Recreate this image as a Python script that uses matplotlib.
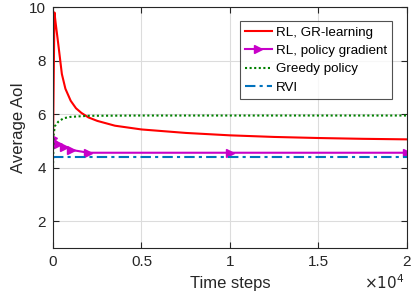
import matplotlib
matplotlib.use("Agg")
from matplotlib import pyplot as plt
from matplotlib.ticker import FuncFormatter

# data
gr_x = [0, 80, 150, 300, 500, 700, 1000, 1300, 1600, 2000, 2500, 3500, 5000, 7500, 10000, 12500, 15000, 17500, 20000]
gr_y = [5.0, 9.8, 9.4, 8.6, 7.5, 6.95, 6.5, 6.22, 6.05, 5.88, 5.75, 5.57, 5.43, 5.3, 5.21, 5.15, 5.11, 5.08, 5.06]

pg_x = [0, 300, 600, 1000, 2000, 10000, 20000]
pg_y = [5.1, 4.89, 4.79, 4.67, 4.56, 4.56, 4.56]

greedy_x = [0, 30, 100, 300, 600, 1000, 2000, 5000, 20000]
greedy_y = [4.0, 5.2, 5.55, 5.72, 5.85, 5.9, 5.94, 5.95, 5.95]

rvi_x = [0, 20000]
rvi_y = [4.41, 4.41]

xticks = [0, 5000, 10000, 15000, 20000]
yticks = [2, 4, 6, 8, 10]

plt.rcParams['font.family'] = ['Liberation Sans', 'DejaVu Sans']
fig = plt.figure(figsize=(4.11, 2.96), dpi=100)
ax = fig.add_axes([0.129, 0.162, 0.861, 0.814])

ax.plot(gr_x, gr_y, color='red', lw=1.5, label='RL, GR-learning')
ax.plot(pg_x, pg_y, color='#C800C8', lw=1.5, marker='>', ms=6, label='RL, policy gradient')
ax.plot(greedy_x, greedy_y, color='#008000', lw=1.5, ls=(0, (1, 1.2)), label='Greedy policy')
ax.plot(rvi_x, rvi_y, color='#0072BD', lw=1.5, ls=(0, (5, 2, 1.5, 2)), label='RVI')

ax.set_xlim(0, 20000)
ax.set_ylim(1, 10)
ax.set_xticks(xticks)
ax.set_yticks(yticks)
ax.xaxis.set_major_formatter(FuncFormatter(lambda v, p: '%g' % (v / 1e4)))
ax.grid(True, color='#dcdcdc', lw=0.8)
ax.tick_params(direction='in', top=True, right=True, labelsize=11, colors='#262626', length=4, pad=5)
for s in ax.spines.values():
    s.set_color('#262626')
    s.set_linewidth(0.8)

ax.set_xlabel('Time steps', fontsize=12, color='#262626', labelpad=5)
ax.set_ylabel('Average AoI', fontsize=12, color='#262626', labelpad=2)
fig.text(0.985, 0.012, r'$\times10^4$', ha='right', va='bottom', fontsize=11, color='#262626')

leg = ax.legend(loc='upper right', bbox_to_anchor=(0.958, 0.942), fontsize=9.6, fancybox=False,
                edgecolor='#262626', handlelength=2.0, borderpad=0.4, labelspacing=0.45,
                handletextpad=0.3, borderaxespad=0)
leg.get_frame().set_linewidth(0.8)

plt.savefig("out.png", dpi=100)
